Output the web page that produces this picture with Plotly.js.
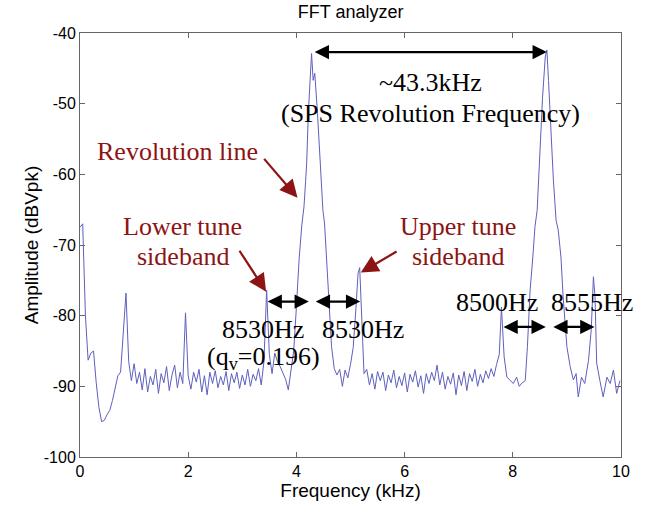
<!DOCTYPE html>
<html>
<head>
<meta charset="utf-8">
<script src="https://cdn.plot.ly/plotly-3.0.1.min.js"></script>
<style>html,body{margin:0;padding:0;background:#fff;}#chart{width:653px;height:508px;}</style>
</head>
<body>
<div id="chart"></div>
<script>
// Frequency (kHz)
var freqKHz = [
0.00,0.05,0.10,0.15,0.20,0.25,0.30,0.35,0.40,0.45,0.50,0.55,0.60,0.65,0.70,0.75,0.80,0.85,0.90,0.95,
1.00,1.05,1.10,1.15,1.20,1.25,1.30,1.35,1.40,1.45,1.50,1.55,1.60,1.65,1.70,1.75,1.80,1.85,1.90,1.95,
2.00,2.05,2.10,2.15,2.20,2.25,2.30,2.35,2.40,2.45,2.50,2.55,2.60,2.65,2.70,2.75,2.80,2.85,2.90,2.95,
3.00,3.05,3.10,3.15,3.20,3.25,3.30,3.35,3.40,3.45,3.50,3.55,3.60,3.65,3.70,3.75,3.80,3.85,3.90,3.95,
4.00,4.05,4.10,4.14,4.17,4.19,4.22,4.25,4.28,4.31,4.34,4.39,4.44,4.49,4.52,4.56,4.61,4.65,4.70,4.75,
4.80,4.85,4.90,4.95,5.00,5.05,5.10,5.14,5.17,5.21,5.25,5.30,5.35,5.40,5.45,5.50,5.55,5.60,5.65,5.70,
5.75,5.80,5.85,5.90,5.95,6.00,6.05,6.10,6.15,6.20,6.25,6.30,6.35,6.40,6.45,6.50,6.55,6.60,6.65,6.70,
6.75,6.80,6.85,6.90,6.95,7.00,7.05,7.10,7.15,7.20,7.25,7.30,7.35,7.40,7.45,7.50,7.55,7.60,7.65,7.70,
7.75,7.79,7.84,7.89,7.95,8.01,8.07,8.12,8.16,8.23,8.27,8.32,8.37,8.41,8.45,8.50,8.55,8.60,8.63,8.66,
8.70,8.75,8.80,8.84,8.89,8.93,9.00,9.06,9.12,9.17,9.21,9.27,9.33,9.40,9.45,9.49,9.52,9.55,9.61,9.67,
9.74,9.80,9.86,9.92,9.98
];
// Amplitude (dBVpk)
var amplitudeDb = [
-67.5,-67.0,-80.0,-86.3,-85.3,-85.0,-89.5,-93.0,-95.0,-94.8,-94.0,-93.4,-92.0,-90.0,-88.5,-88.0,-82.0,-76.8,-86.5,-89.2,
-86.8,-89.6,-88.0,-90.5,-87.5,-90.8,-88.6,-89.8,-87.6,-91.0,-88.2,-89.5,-87.2,-90.6,-88.4,-87.0,-90.2,-88.0,-89.6,-79.6,
-88.5,-90.4,-88.0,-89.4,-87.6,-90.8,-88.5,-91.2,-88.0,-89.6,-87.8,-90.2,-88.6,-89.8,-87.9,-90.6,-88.2,-89.5,-88.0,-90.3,
-88.4,-89.8,-87.6,-90.0,-88.3,-89.2,-87.5,-89.8,-86.5,-76.4,-85.5,-88.2,-85.3,-86.5,-87.2,-88.0,-89.0,-90.5,-88.0,-85.0,
-78.8,-72.0,-67.2,-64.6,-61.0,-58.4,-51.4,-46.0,-42.9,-46.7,-45.7,-51.4,-58.4,-65.1,-66.9,-72.6,-79.6,-84.4,-87.5,-88.4,
-87.6,-90.0,-87.7,-88.8,-86.9,-84.5,-79.0,-74.0,-73.2,-82.0,-88.2,-87.6,-89.8,-88.2,-90.4,-87.9,-89.2,-88.0,-90.6,-88.4,
-89.5,-87.7,-90.2,-88.6,-89.9,-88.1,-90.8,-88.3,-89.4,-87.8,-90.1,-88.5,-91.0,-88.2,-89.6,-88.0,-89.2,-87.0,-89.8,-88.0,
-90.4,-88.6,-89.7,-88.1,-91.2,-88.4,-89.9,-87.9,-90.6,-88.2,-89.3,-87.6,-90.0,-88.3,-89.5,-87.8,-88.9,-87.5,-88.6,-86.9,
-85.5,-78.8,-85.8,-88.7,-89.2,-89.6,-88.7,-90.0,-89.6,-89.2,-84.4,-76.4,-71.7,-67.4,-65.1,-56.1,-49.1,-43.4,-42.4,-46.7,
-53.8,-60.8,-66.5,-67.9,-71.7,-77.3,-84.4,-87.2,-89.1,-88.2,-91.5,-88.7,-89.6,-86.3,-82.0,-74.5,-77.3,-86.7,-89.2,-91.5,
-88.7,-89.6,-87.7,-91.0,-89.2
];
var xTicks = [0, 2, 4, 6, 8, 10];
var yTicks = [-100, -90, -80, -70, -60, -50, -40];

var serif = "Liberation Serif, Times New Roman, serif";
var sans = "Liberation Sans, Arial, sans-serif";
var red = "#8c1414";
var ann = [];
function txt(x, y, t, color) {
  ann.push({x: x, y: y, xref: 'x', yref: 'y', text: t, showarrow: false,
    font: {family: serif, size: 26, color: color || '#000'}, xanchor: 'center', yanchor: 'middle'});
}
function arrow(x, y, ax, ay, color, both) {
  ann.push({x: x, y: y, ax: ax, ay: ay, xref: 'x', yref: 'y', axref: 'x', ayref: 'y', text: '',
    showarrow: true, arrowhead: 2, startarrowhead: 2, arrowside: both ? 'end+start' : 'end',
    arrowsize: both ? 1.3 : 1.6, startarrowsize: 1.3, arrowwidth: 2.2, arrowcolor: color});
}
// double arrows (black)
arrow(8.63, -42.7, 4.31, -42.7, '#000', true);
arrow(4.23, -78.0, 3.44, -78.0, '#000', true);
arrow(5.18, -78.0, 4.33, -78.0, '#000', true);
arrow(8.61, -81.6, 7.80, -81.6, '#000', true);
arrow(9.51, -81.6, 8.72, -81.6, '#000', true);
// red pointers
arrow(4.02, -63.3, 3.38, -57.6, red, false);
arrow(3.44, -76.6, 2.93, -70.6, red, false);
arrow(5.19, -73.9, 5.88, -70.8, red, false);
// texts
txt(6.47, -47.0, '~43.3kHz');
txt(6.47, -51.4, '(SPS Revolution Frequency)');
txt(1.81, -56.7, 'Revolution line', red);
txt(1.90, -67.4, 'Lower tune', red);
txt(1.90, -71.6, 'sideband', red);
txt(6.99, -67.4, 'Upper tune', red);
txt(6.99, -71.6, 'sideband', red);
txt(3.38, -81.9, '8530Hz');
txt(3.40, -86.0, '(q<sub>v</sub>=0.196)');
txt(5.23, -81.9, '8530Hz');
txt(7.71, -78.2, '8500Hz');
txt(9.46, -78.2, '8555Hz');

var trace = {x: freqKHz, y: amplitudeDb, type: 'scatter', mode: 'lines',
  line: {color: 'rgb(95,95,190)', width: 1}, hoverinfo: 'skip'};

var axisCommon = {showgrid: false, zeroline: false, showline: true, mirror: 'ticks',
  linecolor: '#666', linewidth: 1, ticks: 'inside', ticklen: 5, tickcolor: '#666',
  tickfont: {family: sans, size: 16, color: '#000'}};

var layout = {
  width: 653, height: 508,
  margin: {l: 80, r: 32, t: 33, b: 51},
  paper_bgcolor: '#fff', plot_bgcolor: '#fff',
  showlegend: false,
  title: {text: 'FFT analyzer', x: 0.537, xanchor: 'center', y: 0.99, yanchor: 'top',
    font: {family: sans, size: 18, color: '#000'}},
  annotations: ann,
  xaxis: Object.assign({}, axisCommon, {range: [0, 10], tickvals: xTicks, ticktext: xTicks.map(String),
    title: {text: 'Frequency (kHz)', standoff: 0, font: {family: sans, size: 19, color: '#000'}}}),
  yaxis: Object.assign({}, axisCommon, {range: [-100, -40], tickvals: yTicks, ticktext: yTicks.map(String),
    title: {text: 'Amplitude (dBVpk)', standoff: 0, font: {family: sans, size: 19, color: '#000'}}})
};

Plotly.newPlot('chart', [trace], layout, {staticPlot: true, displayModeBar: false});
</script>
</body>
</html>
